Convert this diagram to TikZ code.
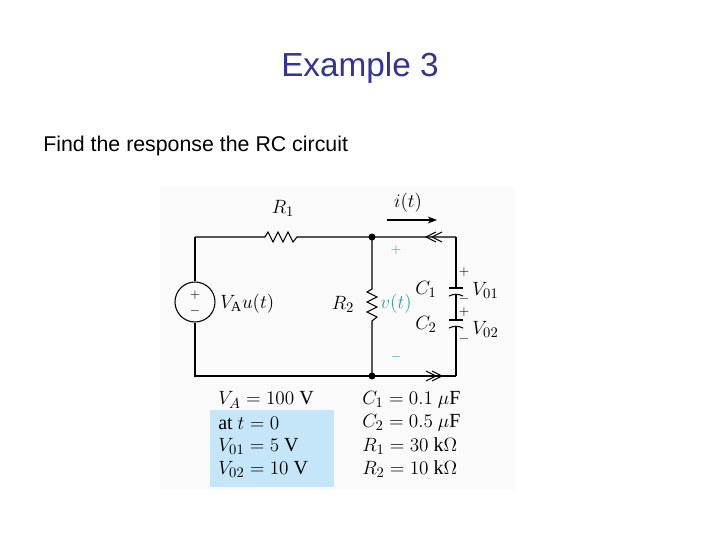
\documentclass[tikz,border=0pt]{standalone}
\usepackage{fontspec}
\setmainfont{Liberation Serif}
\newfontfamily\sans{Liberation Sans}
\usetikzlibrary{arrows.meta}
\definecolor{ttl}{HTML}{333399}
\definecolor{teal1}{HTML}{2AA0B8}
\definecolor{boxb}{HTML}{C5E6F8}
\begin{document}
\begin{tikzpicture}[x=0.75pt,y=-0.75pt,
  w/.style={line width=0.8pt},
  lbl/.style={font=\fontsize{15}{16}\selectfont},
  sg/.style={font=\fontsize{10}{10}\selectfont,inner sep=0},
  eq/.style={font=\fontsize{15}{16}\selectfont,anchor=west,inner sep=0}]
\useasboundingbox (0,0) rectangle (720,540);
\fill[white] (0,0) rectangle (720,540);
\fill[black!2] (160,187) rectangle (515,490);
\node[font=\sans\fontsize{25}{28}\selectfont,text=ttl] (title) at (360,68) {Example 3};
\node[font=\sans\fontsize{16}{18}\selectfont,anchor=west,inner sep=0] (sub) at (43,146) {Find the response the RC circuit};
% nodes
\coordinate (tl) at (195,237); \coordinate (bl) at (195,376);
\coordinate (tr) at (456,237); \coordinate (br) at (456,376);
\coordinate (nt) at (372,237); \coordinate (nb) at (372,376);
\node[circle,draw,w,minimum size=40pt*0.75,inner sep=0] (src) at (195,302) {};
\draw[w] (tl) -- (src.north); \draw[w] (src.south) -- (bl) -- (nb) -- (br);
\draw[w] (tl) -- (265,237) -- (268,232) -- (273,242) -- (278,232) -- (283,242) -- (288,232) -- (293,242) -- (297,237) -- (nt) -- (tr);
\draw[w] (nt) -- (372,289) -- (367,292) -- (377,297) -- (367,302) -- (377,307) -- (367,312) -- (377,317) -- (372,321) -- (nb);
\fill (nt) circle (3.5); \fill (nb) circle (3.5);
\node[sg] (sp) at (195,295) {$+$};
\node[sg] (sm) at (195,311) {$-$};
% capacitors
\draw[w] (tr) -- (456,288); \draw[w] (449,288) -- (463,288);
\draw[w] (449,296) to[bend left=25] (463,296);
\draw[w] (456,293.5) -- (456,320); \draw[w] (449,320) -- (463,320);
\draw[w] (449,328) to[bend left=25] (463,328);
\draw[w] (456,325.5) -- (br);
% chevrons
\draw[w] (436,232) -- (426,237) -- (436,242); \draw[w] (442,232) -- (432,237) -- (442,242);
\draw[w] (426,371) -- (436,376) -- (426,381); \draw[w] (432,371) -- (442,376) -- (432,381);
\draw[w,-{Stealth[length=7pt]}] (387,220) -- (437,220);
% labels
\node[lbl] (lR1) at (283,208) {$R_1$};
\node[lbl] (li) at (408,203) {$i(t)$};
\node[lbl,anchor=west,inner sep=0] (lva) at (220,304) {$V_{\mathrm A}u(t)$};
\node[lbl] (lR2) at (343,304) {$R_2$};
\node[lbl,text=teal1] (lv) at (396,304) {$v(t)$};
\node[sg,text=teal1] (vp) at (396,250) {$+$};
\node[sg,text=teal1] (vm) at (396,357) {$-$};
\node[lbl] (lC1) at (426,289) {$C_1$};
\node[lbl] (lC2) at (426,324) {$C_2$};
\node[lbl,anchor=west,inner sep=0] (lV1) at (472,290) {$V_{01}$};
\node[lbl,anchor=west,inner sep=0] (lV2) at (472,329) {$V_{02}$};
\node[sg] (c1p) at (464,272) {$+$};
\node[sg] (c1m) at (464,299) {$-$};
\node[sg] (c2p) at (464,312) {$+$};
\node[sg] (c2m) at (464,339) {$-$};
% data
\fill[boxb] (210,410) rectangle (334,487);
\node[eq] (e1) at (218,400) {$V_A = 100\ \mathrm{V}$};
\node[eq] (e2) at (218,423) {$\mathrm{at}\ t=0$};
\node[eq] (e3) at (218,446) {$V_{01} = 5\ \mathrm{V}$};
\node[eq] (e4) at (218,469) {$V_{02} = 10\ \mathrm{V}$};
\node[eq] (f1) at (362,400) {$C_1 = 0.1\ \mu\mathrm{F}$};
\node[eq] (f2) at (362,423) {$C_2 = 0.5\ \mu\mathrm{F}$};
\node[eq] (f3) at (362,446) {$R_1 = 30\ \mathrm{k}\Omega$};
\node[eq] (f4) at (362,469) {$R_2 = 10\ \mathrm{k}\Omega$};
\end{tikzpicture}
\end{document}
